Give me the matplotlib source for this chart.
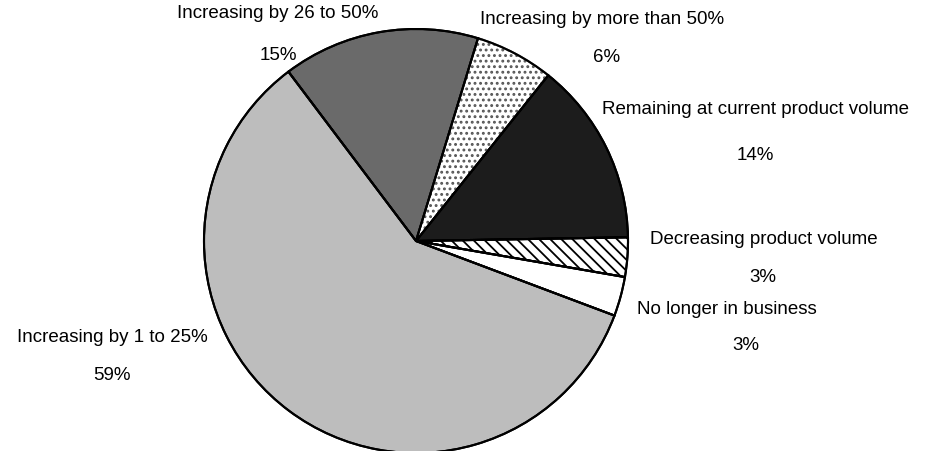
import matplotlib.pyplot as plt

plt.rcParams['font.family'] = ['Liberation Sans', 'DejaVu Sans']
plt.rcParams['hatch.linewidth'] = 1.3

labels = ['Increasing by 26 to 50%', 'Increasing by more than 50%',
          'Remaining at current product volume', 'Decreasing product volume',
          'No longer in business', 'Increasing by 1 to 25%']
values = [15, 6, 14, 3, 3, 59]
colors = ['#6a6a6a', '#ffffff', '#1c1c1c', '#ffffff', '#ffffff', '#bdbdbd']
hatches = [None, '...', None, '\\\\\\', None, None]

# label positions in pixels (x, y from top)
label_pos = [(278, 14), (602, 20), (755, 110), (764, 240), (727, 310), (112, 337)]
pct_pos = [(278, 55), (607, 58), (755, 155), (763, 277), (746, 345), (112, 375)]

W, H = 935, 451
fig = plt.figure(figsize=(W / 100, H / 100), dpi=100)
ax = fig.add_axes([0, 0, 1, 1])

center = (416, H - 241)
wedges, _ = ax.pie(values, colors=colors, startangle=127, counterclock=False,
                   center=center, radius=212,
                   wedgeprops=dict(edgecolor='black', linewidth=1.5))
for w, h in zip(wedges, hatches):
    if h:
        w.set_hatch(h)
# lighter dots for the "more than 50%" slice, outline redrawn below
wedges[1].set_edgecolor('#555555')

# black outlines on top
ax.pie(values, colors=['none'] * len(values), startangle=127, counterclock=False,
       center=center, radius=212,
       wedgeprops=dict(edgecolor='black', linewidth=1.5, fill=False))

for lab, v, (lx, ly), (px, py) in zip(labels, values, label_pos, pct_pos):
    ax.text(lx, H - ly, lab, ha='center', va='center', fontsize=13.5)
    ax.text(px, H - py, f'{v}%', ha='center', va='center', fontsize=13.5)

ax.set_xlim(0, W)
ax.set_ylim(0, H)
ax.set_aspect('equal')
ax.axis('off')

fig.savefig('out.png', dpi=100)
